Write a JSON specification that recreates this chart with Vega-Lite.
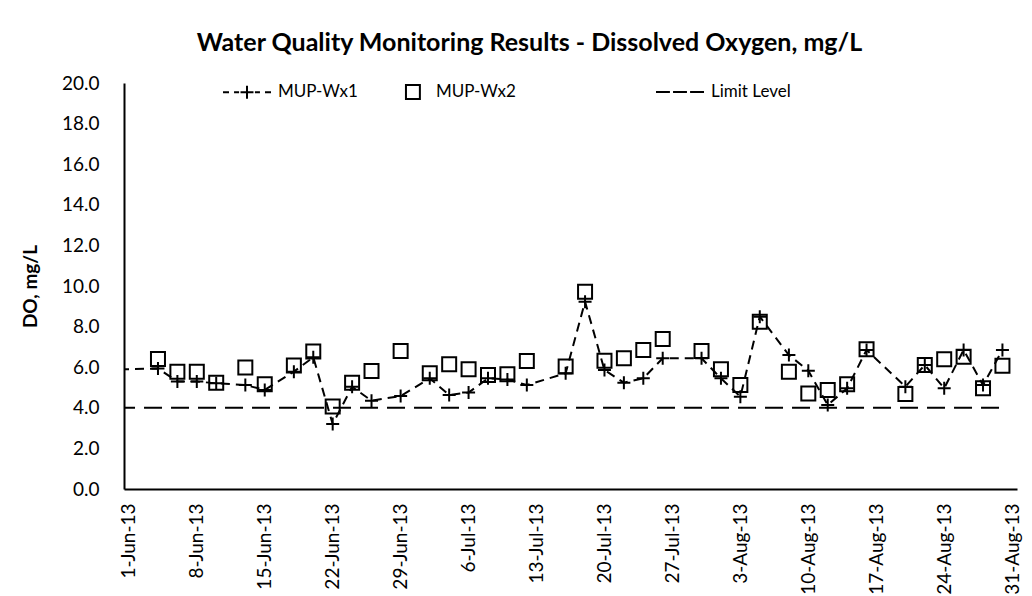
{
  "$schema": "https://vega.github.io/schema/vega-lite/v6.json",
  "autosize": {"type": "none"},
  "padding": {"left": 124, "top": 83, "right": 15, "bottom": 107},
  "width": 893,
  "height": 406,
  "background": "white",
  "title": {"text": "Water Quality Monitoring Results - Dissolved Oxygen, mg/L", "font": "Lato", "fontSize": 25, "fontWeight": "bold", "color": "black", "anchor": "middle", "dx": -41, "offset": 11},
  "config": {
    "view": {"stroke": null},
    "axis": {"grid": false, "ticks": false, "domainColor": "black", "domainWidth": 2, "labelFont": "Lato", "labelFontSize": 19, "labelColor": "black", "titleFont": "Lato", "titleColor": "black"},
    "legend": {"orient": "none", "direction": "horizontal", "labelFont": "Lato", "labelFontSize": 17, "labelColor": "black", "symbolStrokeColor": "black", "symbolFillColor": "transparent", "symbolOpacity": 1, "symbolStrokeWidth": 2, "symbolSize": 2304, "labelOffset": 6}
  },
  "data": {"values": [
    {"date": "2013-05-28", "series": "MUP-Wx1", "value": 5.85},
    {"date": "2013-06-04", "series": "MUP-Wx1", "value": 5.94},
    {"date": "2013-06-06", "series": "MUP-Wx1", "value": 5.29},
    {"date": "2013-06-08", "series": "MUP-Wx1", "value": 5.29},
    {"date": "2013-06-10", "series": "MUP-Wx1", "value": 5.21},
    {"date": "2013-06-13", "series": "MUP-Wx1", "value": 5.12},
    {"date": "2013-06-15", "series": "MUP-Wx1", "value": 4.88},
    {"date": "2013-06-18", "series": "MUP-Wx1", "value": 5.78},
    {"date": "2013-06-20", "series": "MUP-Wx1", "value": 6.49},
    {"date": "2013-06-22", "series": "MUP-Wx1", "value": 3.20},
    {"date": "2013-06-24", "series": "MUP-Wx1", "value": 5.04},
    {"date": "2013-06-26", "series": "MUP-Wx1", "value": 4.35},
    {"date": "2013-06-29", "series": "MUP-Wx1", "value": 4.58},
    {"date": "2013-07-02", "series": "MUP-Wx1", "value": 5.45},
    {"date": "2013-07-04", "series": "MUP-Wx1", "value": 4.63},
    {"date": "2013-07-06", "series": "MUP-Wx1", "value": 4.75},
    {"date": "2013-07-08", "series": "MUP-Wx1", "value": 5.45},
    {"date": "2013-07-10", "series": "MUP-Wx1", "value": 5.40},
    {"date": "2013-07-12", "series": "MUP-Wx1", "value": 5.12},
    {"date": "2013-07-16", "series": "MUP-Wx1", "value": 5.70},
    {"date": "2013-07-18", "series": "MUP-Wx1", "value": 9.23},
    {"date": "2013-07-20", "series": "MUP-Wx1", "value": 5.86},
    {"date": "2013-07-22", "series": "MUP-Wx1", "value": 5.24},
    {"date": "2013-07-24", "series": "MUP-Wx1", "value": 5.45},
    {"date": "2013-07-26", "series": "MUP-Wx1", "value": 6.44},
    {"date": "2013-07-30", "series": "MUP-Wx1", "value": 6.44},
    {"date": "2013-08-01", "series": "MUP-Wx1", "value": 5.45},
    {"date": "2013-08-03", "series": "MUP-Wx1", "value": 4.55},
    {"date": "2013-08-05", "series": "MUP-Wx1", "value": 8.49},
    {"date": "2013-08-08", "series": "MUP-Wx1", "value": 6.60},
    {"date": "2013-08-10", "series": "MUP-Wx1", "value": 5.83},
    {"date": "2013-08-12", "series": "MUP-Wx1", "value": 4.14},
    {"date": "2013-08-14", "series": "MUP-Wx1", "value": 4.96},
    {"date": "2013-08-16", "series": "MUP-Wx1", "value": 6.85},
    {"date": "2013-08-20", "series": "MUP-Wx1", "value": 5.04},
    {"date": "2013-08-22", "series": "MUP-Wx1", "value": 6.11},
    {"date": "2013-08-24", "series": "MUP-Wx1", "value": 4.96},
    {"date": "2013-08-26", "series": "MUP-Wx1", "value": 6.85},
    {"date": "2013-08-28", "series": "MUP-Wx1", "value": 5.12},
    {"date": "2013-08-30", "series": "MUP-Wx1", "value": 6.85},
    {"date": "2013-06-04", "series": "MUP-Wx2", "value": 6.40},
    {"date": "2013-06-06", "series": "MUP-Wx2", "value": 5.78},
    {"date": "2013-06-08", "series": "MUP-Wx2", "value": 5.78},
    {"date": "2013-06-10", "series": "MUP-Wx2", "value": 5.24},
    {"date": "2013-06-13", "series": "MUP-Wx2", "value": 5.98},
    {"date": "2013-06-15", "series": "MUP-Wx2", "value": 5.16},
    {"date": "2013-06-18", "series": "MUP-Wx2", "value": 6.08},
    {"date": "2013-06-20", "series": "MUP-Wx2", "value": 6.77},
    {"date": "2013-06-22", "series": "MUP-Wx2", "value": 4.06},
    {"date": "2013-06-24", "series": "MUP-Wx2", "value": 5.24},
    {"date": "2013-06-26", "series": "MUP-Wx2", "value": 5.81},
    {"date": "2013-06-29", "series": "MUP-Wx2", "value": 6.80},
    {"date": "2013-07-02", "series": "MUP-Wx2", "value": 5.70},
    {"date": "2013-07-04", "series": "MUP-Wx2", "value": 6.14},
    {"date": "2013-07-06", "series": "MUP-Wx2", "value": 5.90},
    {"date": "2013-07-08", "series": "MUP-Wx2", "value": 5.62},
    {"date": "2013-07-10", "series": "MUP-Wx2", "value": 5.65},
    {"date": "2013-07-12", "series": "MUP-Wx2", "value": 6.31},
    {"date": "2013-07-16", "series": "MUP-Wx2", "value": 6.03},
    {"date": "2013-07-18", "series": "MUP-Wx2", "value": 9.72},
    {"date": "2013-07-20", "series": "MUP-Wx2", "value": 6.32},
    {"date": "2013-07-22", "series": "MUP-Wx2", "value": 6.44},
    {"date": "2013-07-24", "series": "MUP-Wx2", "value": 6.85},
    {"date": "2013-07-26", "series": "MUP-Wx2", "value": 7.39},
    {"date": "2013-07-30", "series": "MUP-Wx2", "value": 6.80},
    {"date": "2013-08-01", "series": "MUP-Wx2", "value": 5.90},
    {"date": "2013-08-03", "series": "MUP-Wx2", "value": 5.12},
    {"date": "2013-08-05", "series": "MUP-Wx2", "value": 8.24},
    {"date": "2013-08-08", "series": "MUP-Wx2", "value": 5.78},
    {"date": "2013-08-10", "series": "MUP-Wx2", "value": 4.71},
    {"date": "2013-08-12", "series": "MUP-Wx2", "value": 4.88},
    {"date": "2013-08-14", "series": "MUP-Wx2", "value": 5.16},
    {"date": "2013-08-16", "series": "MUP-Wx2", "value": 6.88},
    {"date": "2013-08-20", "series": "MUP-Wx2", "value": 4.68},
    {"date": "2013-08-22", "series": "MUP-Wx2", "value": 6.11},
    {"date": "2013-08-24", "series": "MUP-Wx2", "value": 6.39},
    {"date": "2013-08-26", "series": "MUP-Wx2", "value": 6.52},
    {"date": "2013-08-28", "series": "MUP-Wx2", "value": 4.96},
    {"date": "2013-08-30", "series": "MUP-Wx2", "value": 6.07},
    {"date": "2013-05-28", "series": "Limit Level", "value": 4.0},
    {"date": "2013-08-30", "series": "Limit Level", "value": 4.0}
  ]},
  "encoding": {
    "x": {
      "field": "date", "type": "temporal",
      "scale": {"type": "utc", "domain": [{"year": 2013, "month": 5, "date": 31, "hours": 12, "utc": true}, {"year": 2013, "month": 8, "date": 31, "hours": 12, "utc": true}]},
      "axis": {
        "title": null, "format": "%-d-%b-%y", "labelAngle": -90, "labelAlign": "right", "labelBaseline": "middle", "labelPadding": 14, "labelOverlap": false,
        "values": [
          {"year": 2013, "month": 6, "date": 1, "utc": true},
          {"year": 2013, "month": 6, "date": 8, "utc": true},
          {"year": 2013, "month": 6, "date": 15, "utc": true},
          {"year": 2013, "month": 6, "date": 22, "utc": true},
          {"year": 2013, "month": 6, "date": 29, "utc": true},
          {"year": 2013, "month": 7, "date": 6, "utc": true},
          {"year": 2013, "month": 7, "date": 13, "utc": true},
          {"year": 2013, "month": 7, "date": 20, "utc": true},
          {"year": 2013, "month": 7, "date": 27, "utc": true},
          {"year": 2013, "month": 8, "date": 3, "utc": true},
          {"year": 2013, "month": 8, "date": 10, "utc": true},
          {"year": 2013, "month": 8, "date": 17, "utc": true},
          {"year": 2013, "month": 8, "date": 24, "utc": true},
          {"year": 2013, "month": 8, "date": 31, "utc": true}
        ]
      }
    },
    "y": {
      "field": "value", "type": "quantitative",
      "scale": {"domain": [0, 20], "nice": false, "zero": true},
      "axis": {"title": "DO, mg/L", "titleFontSize": 19, "titleFontWeight": "bold", "titleX": -94, "titleY": 203, "titleAngle": -90, "titleAlign": "center", "titleBaseline": "middle", "values": [0, 2, 4, 6, 8, 10, 12, 14, 16, 18, 20], "format": ".1f", "labelPadding": 25}
    }
  },
  "layer": [
    {
      "transform": [{"filter": "datum.series === 'Limit Level'"}],
      "mark": {"type": "line", "clip": true, "color": "black", "strokeWidth": 2, "strokeDash": [18, 9]}
    },
    {
      "transform": [{"filter": "datum.series === 'MUP-Wx1'"}],
      "mark": {"type": "line", "clip": true, "color": "black", "strokeWidth": 2, "strokeDash": [9, 6]}
    },
    {
      "transform": [{"filter": "datum.series === 'MUP-Wx1'"}],
      "mark": {"type": "point", "clip": true, "shape": "M-1,0H1M0,-1V1", "size": 169, "filled": false, "color": "black", "strokeWidth": 2, "opacity": 1}
    },
    {
      "transform": [{"filter": "datum.series === 'MUP-Wx2'"}],
      "mark": {"type": "point", "clip": true, "shape": "square", "size": 196, "filled": false, "color": "black", "strokeWidth": 2, "opacity": 1}
    },
    {
      "transform": [{"filter": "datum.series !== 'Limit Level'"}],
      "mark": {"type": "point", "clip": true, "filled": false, "color": "black", "strokeWidth": 2, "opacity": 0, "size": 2304},
      "encoding": {
        "shape": {
          "field": "series", "type": "nominal",
          "scale": {"domain": ["MUP-Wx1", "MUP-Wx2"], "range": ["M-1,0H-0.75M-0.54,0H-0.33M-0.27,0H0.27M0,-0.27V0.27M0.33,0H0.54M0.75,0H1", "M0.04,-0.29H0.62V0.29H0.04Z"]},
          "legend": {"title": null, "legendX": 98, "legendY": -16, "columnPadding": 22}
        }
      }
    },
    {
      "transform": [{"filter": "datum.series === 'Limit Level'"}],
      "mark": {"type": "point", "clip": true, "filled": false, "color": "black", "strokeWidth": 2, "opacity": 0, "size": 2304},
      "encoding": {
        "strokeDash": {
          "field": "series", "type": "nominal",
          "scale": {"domain": ["Limit Level"], "range": [[1, 0]]},
          "legend": {"title": null, "legendX": 531, "legendY": -16, "symbolType": "M-1,0H-0.42M-0.29,0H0.29M0.42,0H1"}
        }
      }
    }
  ]
}
